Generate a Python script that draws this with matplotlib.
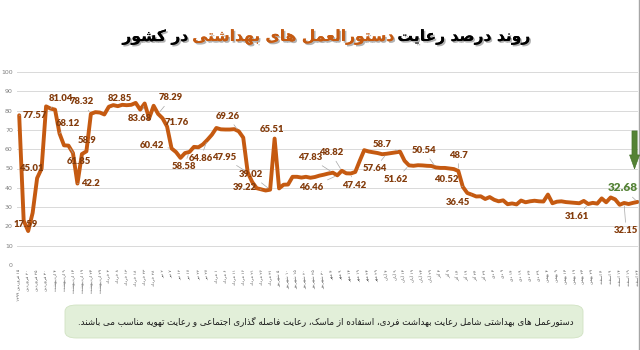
import re
import matplotlib
matplotlib.use("Agg")
import matplotlib.pyplot as plt
from matplotlib import patheffects
from matplotlib.patches import FancyBboxPatch, Polygon
from matplotlib.lines import Line2D
from matplotlib.transforms import IdentityTransform

# ---------------------------------------------------------------- data
compliance = [
    77.57, 23.0, 17.59, 27.0, 45.01, 50.0, 82.2, 81.04, 80.5, 68.12,
    62.0, 61.85, 58.0, 42.2, 57.5, 58.9, 78.32, 79.2, 79.0, 78.0,
    82.0, 82.85, 82.3, 83.0, 82.8, 83.0, 84.0, 80.5, 83.68, 76.0,
    82.5, 78.29, 76.0, 71.76, 60.42, 58.5, 55.5, 58.0, 58.58, 61.2,
    61.0, 62.5, 64.86, 67.5, 71.0, 70.3, 70.2, 70.2, 70.4, 69.26,
    66.0, 47.95, 43.0, 39.8, 39.22, 38.6, 39.02, 65.51, 39.7, 41.6,
    41.7, 45.7, 45.7, 45.3, 45.7, 45.2, 45.6, 46.3, 46.8, 47.4,
    47.83, 46.46, 48.82, 47.5, 47.42, 48.2, 54.0, 59.5, 58.8, 58.4,
    58.0, 57.4, 57.64, 58.0, 58.4, 58.7, 54.0, 51.62, 51.4, 51.7,
    51.6, 51.4, 51.3, 50.54, 50.3, 50.3, 50.0, 49.7, 48.7, 40.52,
    37.3, 36.45, 35.5, 35.6, 34.2, 35.2, 33.8, 33.0, 33.5, 31.5,
    31.9, 31.4, 33.4, 32.5, 33.0, 33.3, 33.0, 32.9, 36.5, 32.0,
    32.8, 33.0, 32.6, 32.4, 32.2, 32.0, 33.2, 31.61, 32.2, 31.8,
    34.5, 32.5, 35.0, 34.0, 31.2, 32.15, 31.6, 32.2, 32.68,
]

date_labels = [
    "۱۵ فروردین ۱۳۹۹", "۲۰ فروردین", "۲۵ فروردین", "۳۰ فروردین",
    "۴ اردیبهشت", "۹ اردیبهشت", "۱۴ اردیبهشت", "۱۹ اردیبهشت", "۲۴ اردیبهشت", "۲۹ اردیبهشت",
    "۳ خرداد", "۸ خرداد", "۱۳ خرداد", "۱۸ خرداد", "۲۳ خرداد", "۲۸ خرداد",
    "۲ تیر", "۷ تیر", "۱۲ تیر", "۱۷ تیر", "۲۲ تیر", "۲۷ تیر",
    "۱ مرداد", "۶ مرداد", "۱۱ مرداد", "۱۶ مرداد", "۲۱ مرداد", "۲۶ مرداد", "۳۱ مرداد",
    "۵ شهریور", "۱۰ شهریور", "۱۵ شهریور", "۲۰ شهریور", "۲۵ شهریور", "۳۰ شهریور",
    "۴ مهر", "۹ مهر", "۱۴ مهر", "۱۹ مهر", "۲۴ مهر", "۲۹ مهر",
    "۴ آبان", "۹ آبان", "۱۴ آبان", "۱۹ آبان", "۲۴ آبان", "۲۹ آبان",
    "۴ آذر", "۹ آذر", "۱۴ آذر", "۱۹ آذر", "۲۴ آذر", "۲۹ آذر",
    "۴ دی", "۹ دی", "۱۴ دی", "۱۹ دی", "۲۴ دی", "۲۹ دی",
    "۴ بهمن", "۹ بهمن", "۱۴ بهمن", "۱۹ بهمن", "۲۴ بهمن", "۲۹ بهمن",
    "۴ اسفند", "۹ اسفند", "۱۴ اسفند", "۱۹ اسفند", "۲۴ اسفند",
]

# labelled points: index and label offset (pixels) from the point
labelled = [
    (0, 16, 0), (2, -2, 7), (4, -6, 10), (7, 10, 10), (9, 8, 10),
    (11, 10, -16), (13, 13, 0), (15, 1, 11), (16, -9, 12), (21, 7, 7),
    (28, -5, -15), (31, 13, 16), (33, 10, 4), (34, -20, 3), (38, -6, -15),
    (42, -7, -19), (49, -11, 15), (51, -24, 15), (54, -16, 2), (56, -19, 15),
    (57, -3, 9), (70, -23, 15), (71, -26, -12), (72, -11, 18), (74, 3, -12),
    (82, -12, -15), (85, -18, 7), (87, -13, -14), (93, -12, 17), (98, 0, 16),
    (99, -16, 7), (101, -14, -8), (127, -11, -13), (135, 2, -28),
]
highlight = (138, -15, 14)

title_parts = ["روند درصد رعایت", "دستورالعمل های بهداشتی", "در کشور"]
title_colors = ["#000000", "#c55a11", "#000000"]
note_text = ("دستورعمل های بهداشتی شامل رعایت بهداشت فردی، استفاده از ماسک، "
             "رعایت فاصله گذاری اجتماعی و رعایت تهویه مناسب می باشند.")

# ---------------------------------------------------------------- arabic shaping
# isolated, final, initial, medial presentation forms
_FORMS = {
    "ا": ("\uFE8D", "\uFE8E", None, None),
    "آ": ("\uFE81", "\uFE82", None, None),
    "ب": ("\uFE8F", "\uFE90", "\uFE91", "\uFE92"),
    "پ": ("\uFB56", "\uFB57", "\uFB58", "\uFB59"),
    "ت": ("\uFE95", "\uFE96", "\uFE97", "\uFE98"),
    "ث": ("\uFE99", "\uFE9A", "\uFE9B", "\uFE9C"),
    "ج": ("\uFE9D", "\uFE9E", "\uFE9F", "\uFEA0"),
    "چ": ("\uFB7A", "\uFB7B", "\uFB7C", "\uFB7D"),
    "ح": ("\uFEA1", "\uFEA2", "\uFEA3", "\uFEA4"),
    "خ": ("\uFEA5", "\uFEA6", "\uFEA7", "\uFEA8"),
    "د": ("\uFEA9", "\uFEAA", None, None),
    "ذ": ("\uFEAB", "\uFEAC", None, None),
    "ر": ("\uFEAD", "\uFEAE", None, None),
    "ز": ("\uFEAF", "\uFEB0", None, None),
    "ژ": ("\uFB8A", "\uFB8B", None, None),
    "س": ("\uFEB1", "\uFEB2", "\uFEB3", "\uFEB4"),
    "ش": ("\uFEB5", "\uFEB6", "\uFEB7", "\uFEB8"),
    "ص": ("\uFEB9", "\uFEBA", "\uFEBB", "\uFEBC"),
    "ض": ("\uFEBD", "\uFEBE", "\uFEBF", "\uFEC0"),
    "ط": ("\uFEC1", "\uFEC2", "\uFEC3", "\uFEC4"),
    "ظ": ("\uFEC5", "\uFEC6", "\uFEC7", "\uFEC8"),
    "ع": ("\uFEC9", "\uFECA", "\uFECB", "\uFECC"),
    "غ": ("\uFECD", "\uFECE", "\uFECF", "\uFED0"),
    "ف": ("\uFED1", "\uFED2", "\uFED3", "\uFED4"),
    "ق": ("\uFED5", "\uFED6", "\uFED7", "\uFED8"),
    "ک": ("\uFB8E", "\uFB8F", "\uFB90", "\uFB91"),
    "گ": ("\uFB92", "\uFB93", "\uFB94", "\uFB95"),
    "ل": ("\uFEDD", "\uFEDE", "\uFEDF", "\uFEE0"),
    "م": ("\uFEE1", "\uFEE2", "\uFEE3", "\uFEE4"),
    "ن": ("\uFEE5", "\uFEE6", "\uFEE7", "\uFEE8"),
    "ه": ("\uFEE9", "\uFEEA", "\uFEEB", "\uFEEC"),
    "و": ("\uFEED", "\uFEEE", None, None),
    "ی": ("\uFBFC", "\uFBFD", "\uFBFE", "\uFBFF"),
    "ئ": ("\uFE89", "\uFE8A", "\uFE8B", "\uFE8C"),
}


def rtl(text):
    chars = list(text)
    out = []
    for i, c in enumerate(chars):
        forms = _FORMS.get(c)
        if forms is None:
            out.append(c)
            continue
        prev = chars[i - 1] if i > 0 else None
        nxt = chars[i + 1] if i + 1 < len(chars) else None
        join_prev = prev in _FORMS and _FORMS[prev][2] is not None
        join_next = nxt in _FORMS and forms[2] is not None
        if join_prev and join_next:
            out.append(forms[3])
        elif join_prev:
            out.append(forms[1])
        elif join_next:
            out.append(forms[2])
        else:
            out.append(forms[0])
    visual = "".join(out)[::-1]
    return re.sub(r"[0-9\u06F0-\u06F9]+", lambda m: m.group(0)[::-1], visual)


# ---------------------------------------------------------------- figure
W, H = 640, 350
fig = plt.figure(figsize=(W / 100, H / 100), dpi=100)
fig.patch.set_facecolor("white")

ax = fig.add_axes([17 / W, 1 - 265 / H, (638 - 17) / W, (265 - 72) / H])
x = list(range(len(compliance)))
ax.plot(x, compliance, color="#c55a11", lw=2.8, solid_joinstyle="round",
        solid_capstyle="round", clip_on=False, zorder=3)

ax.set_xlim(-0.49, 138.1)
ax.set_ylim(0, 100)
ax.set_yticks(range(0, 101, 10))
ax.tick_params(axis="y", length=0, pad=3, labelsize=4.5, labelcolor="#7f7f7f")
ax.yaxis.grid(True, color="#d9d9d9", lw=0.7)
ax.set_axisbelow(True)
for s in ax.spines.values():
    s.set_visible(False)

ax.set_xticks(range(0, len(compliance), 2))
ax.set_xticklabels([rtl(t) for t in date_labels], rotation=90, fontsize=3.2,
                   color="#595959", family="DejaVu Sans")
ax.tick_params(axis="x", length=0, pad=3)

label_color = "#843c0c"
for idx, dx, dy in labelled:
    v = compliance[idx]
    far = (dx * dx + dy * dy) ** 0.5 > 12
    ax.annotate(f"{v:g}", xy=(idx, v), xytext=(dx, dy), textcoords="offset pixels",
                ha="center", va="center", fontsize=6.8, fontweight="heavy",
                family="Lato", color=label_color, zorder=5,
                arrowprops=dict(arrowstyle="-", color="#a6a6a6", lw=0.5,
                                shrinkA=1, shrinkB=2) if far else None,
                annotation_clip=False)

hi, hdx, hdy = highlight
hv = compliance[hi]
ax.annotate(f"{hv:g}", xy=(hi, hv), xytext=(hdx, hdy), textcoords="offset pixels",
            ha="center", va="center", fontsize=8.5, fontweight="heavy", family="Lato",
            color="#548235", zorder=5, annotation_clip=False,
            arrowprops=dict(arrowstyle="-", color="#a6a6a6", lw=0.5, shrinkA=1, shrinkB=2))

# downward green arrow above the latest value
px, py = ax.transData.transform((hi, hv))
cx = px - 3
top, neck, tip = py + 71, py + 47, py + 33
sw, hw = 2.6, 5.0
arrow = Polygon([(cx - sw, top), (cx + sw, top), (cx + sw, neck), (cx + hw, neck),
                 (cx, tip), (cx - hw, neck), (cx - sw, neck)], closed=True,
                facecolor="#548235", edgecolor="#3f6b24", lw=0.4,
                transform=IdentityTransform(), zorder=6)
fig.patches.append(arrow)

# ---------------------------------------------------------------- title
fig.canvas.draw()
renderer = fig.canvas.get_renderer()
shadow = [patheffects.withSimplePatchShadow(offset=(1.2, -1.2), shadow_rgbFace="#808080", alpha=0.6),
          patheffects.Normal()]
title_size = 11.2
texts = []
for part, col in zip(title_parts, title_colors):
    t = fig.text(0, 1 - 37 / H, rtl(part), fontsize=title_size, fontweight="bold",
                 family="DejaVu Sans", color=col, ha="right", va="center",
                 path_effects=shadow)
    texts.append(t)
widths = [t.get_window_extent(renderer).width for t in texts]
gap = 4
total = sum(widths) + gap * (len(widths) - 1)
right = 326 + total / 2
for t, w in zip(texts, widths):
    t.set_x(right / W)
    right -= w + gap

# ---------------------------------------------------------------- note box
box = FancyBboxPatch((65 / W, 1 - 338 / H), (583 - 65) / W, (338 - 305) / H,
                     boxstyle="round,pad=0,rounding_size=0.018",
                     transform=fig.transFigure, facecolor="#e2efd9",
                     edgecolor="#d0e2c2", lw=0.6)
fig.patches.append(box)
fig.text(326 / W, 1 - 321.5 / H, rtl(note_text), fontsize=6.3, family="DejaVu Sans",
         color="#1a1a1a", ha="center", va="center")

# right border
fig.add_artist(Line2D([638.5 / W, 638.5 / W], [0, 1], color="#a6a6a6", lw=1.0,
                      transform=fig.transFigure))

fig.savefig("out.png", dpi=100)
